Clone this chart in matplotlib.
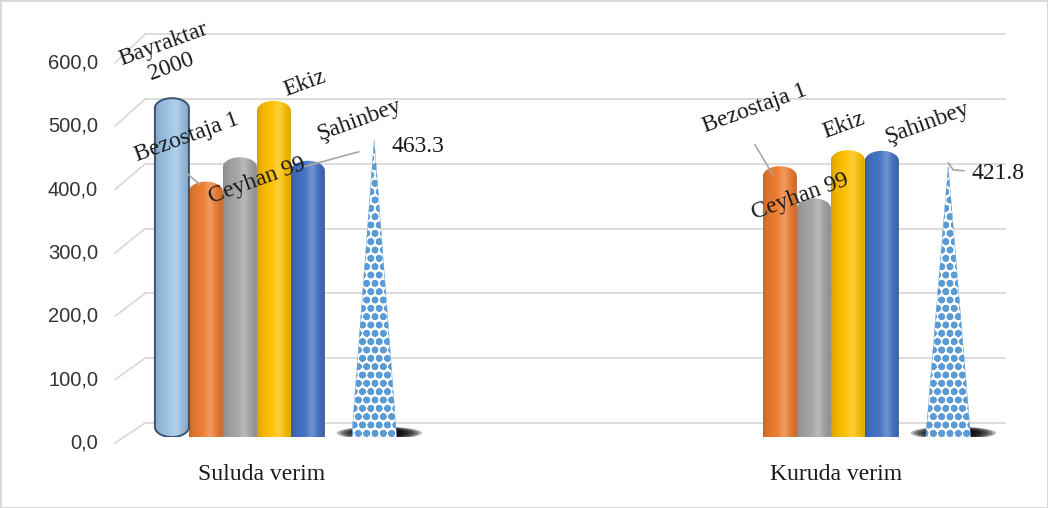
import numpy as np
import matplotlib.pyplot as plt
import matplotlib.transforms as mtransforms
from matplotlib.patches import PathPatch, Ellipse, Polygon
from matplotlib.path import Path
from matplotlib.colors import to_rgb

plt.rcParams['font.family'] = 'Liberation Serif'
plt.rcParams['hatch.linewidth'] = 2.4

# data
categories = ['Suluda verim', 'Kuruda verim']
varieties = ['Bayraktar\n2000', 'Bezostaja 1', 'Ceyhan 99', 'Ekiz', 'Şahinbey']
suluda = [528, 398, 436, 524, 430.5]
kuruda = [None, 422, 372, 447, 446]
averages = [463.3, 421.8]
yticks = [0, 100, 200, 300, 400, 500, 600]

colors = ['#9DC3E6', '#ED7D31', '#A5A5A5', '#FFC000', '#4472C4']
pyr_color = '#5B9BD5'
txt = '#1a1a1a'

W, H = 1048, 508
fig = plt.figure(figsize=(W / 100, H / 100), dpi=100)
fig.patch.set_edgecolor('#d9d9d9')
fig.patch.set_linewidth(2)
ax = fig.add_axes([115 / W, (H - 437) / H, 890 / W, 385 / H])
ax.set_xlim((115 - 262) / 574, (1005 - 262) / 574)
ax.set_ylim(0, 600)
ax.axis('off')

px_per_unit = 385 / 600
w = 34 / 574                     # bar width in data units
bar_off = (np.arange(5) - 2.65) * w
pyr_off = 3.3 * w


def off(dx, dy):
    return mtransforms.offset_copy(ax.transData, fig=fig, x=dx, y=dy, units='dots')


# gridlines (back wall) with the 3D diagonal stubs, and tick labels (front)
blend = mtransforms.blended_transform_factory(ax.transAxes, ax.transData)
for v in yticks:
    front = -6 - v * 0.008
    back = 14 + v * 0.006
    tb = blend + mtransforms.ScaledTranslation(0, back / 100, fig.dpi_scale_trans)
    tf = blend + mtransforms.ScaledTranslation(0, front / 100, fig.dpi_scale_trans)
    ax.plot([30 / 890, 1], [v, v], color='#d9d9d9', lw=1.3, transform=tb,
            clip_on=False, zorder=0)
    ax.annotate('', xy=(0, v), xycoords=tf, xytext=(30 / 890, v), textcoords=tb,
                arrowprops=dict(arrowstyle='-', color='#d9d9d9', lw=1.3,
                                shrinkA=0, shrinkB=0), zorder=0)
    ax.text(-17 / 890, v, f'{v:.1f}'.replace('.', ','), transform=tf,
            ha='right', va='center', fontsize=14.5, color='#333333',
            family='Liberation Sans')


def capsule(xc, top, round_bottom=False):
    cap = 10 / px_per_unit
    hw = w / 2
    t = np.linspace(0, np.pi, 40)
    top_x = xc + hw * np.cos(t)
    top_y = top - cap + cap * np.sin(t)
    if round_bottom:
        bx = xc - hw * np.cos(t)
        by = cap - cap * np.sin(t)
    else:
        bx = np.array([xc - hw, xc + hw])
        by = np.array([0, 0])
    xs = np.concatenate([bx, top_x])
    ys = np.concatenate([by, top_y])
    verts = np.column_stack([np.append(xs, xs[0]), np.append(ys, ys[0])])
    codes = [Path.MOVETO] + [Path.LINETO] * (len(verts) - 2) + [Path.CLOSEPOLY]
    return Path(verts, codes)


tg = np.linspace(0, 1, 80)
shade = 0.8 + 0.2 * np.sin(np.pi * tg) ** 0.5
hl = 0.22 * np.exp(-((tg - 0.62) / 0.14) ** 2)


def draw_bar(xc, val, color, round_bottom=False, edge=None):
    path = capsule(xc, val, round_bottom)
    patch = PathPatch(path, facecolor='none',
                      edgecolor=edge if edge else 'none', lw=1.4, zorder=3)
    ax.add_patch(patch)
    base = np.array(to_rgb(color))
    rgb = base[None, :] * shade[:, None]
    rgb = rgb * (1 - hl[:, None]) + hl[:, None]
    img = ax.imshow(np.clip(rgb, 0, 1)[None, :, :],
                    extent=[xc - w / 2, xc + w / 2, -5, val + 5],
                    aspect='auto', zorder=2, interpolation='bilinear')
    img.set_clip_path(patch)


def draw_pyramid(xc, val):
    # soft shadow under the base
    for s in np.linspace(1.0, 0.45, 8):
        ax.add_patch(Ellipse((xc + 0.15 * w, 4 / px_per_unit), 2.5 * w * s,
                             13 / px_per_unit * (0.4 + 0.6 * s),
                             facecolor='black', alpha=0.3, lw=0, zorder=1))
    bw = 0.66 * w
    ax.add_patch(Polygon([(xc - bw, 0), (xc + bw, 0), (xc, val)], closed=True,
                         facecolor='white', edgecolor=pyr_color, hatch='oo',
                         lw=0.3, zorder=2))


for gi, series in enumerate([suluda, kuruda]):
    for i, val in enumerate(series):
        if val is None:
            continue
        draw_bar(gi + bar_off[i], val, colors[i], round_bottom=(i == 0),
                 edge='#3A5470' if i == 0 else None)
    draw_pyramid(gi + pyr_off, averages[gi])
    ax.annotate(categories[gi], xy=(gi, 0), xycoords='data', xytext=(0, -37),
                textcoords='offset pixels', ha='center', va='center', fontsize=17,
                color=txt)

# series name labels (offsets in pixels from bar top)
name_off = [
    [(-4.5, 42.5), (-19.5, 44.5), (17, -24), (30.5, 17.5), (51, 41)],
    [None, (-25, 57.5), (-14, 1.5), (-4.5, 25), (45.5, 27.5)],
]
for gi, series in enumerate([suluda, kuruda]):
    for i, val in enumerate(series):
        if val is None:
            continue
        dx, dy = name_off[gi][i]
        ax.text(gi + bar_off[i], val, varieties[i], transform=off(dx, dy),
                ha='center', va='center', rotation=20, fontsize=17,
                color=txt, linespacing=1.15, zorder=5, rotation_mode='anchor')

avg_off = [(17, -7), (23, -7)]
for gi, val in enumerate(averages):
    dx, dy = avg_off[gi]
    ax.text(gi + pyr_off, val, f'{val:.1f}', transform=off(dx, dy),
            ha='left', va='center', fontsize=17, color=txt, zorder=5)


def leader(x, v, pts):
    for (ax1, ay1), (bx1, by1) in zip(pts[:-1], pts[1:]):
        ax.annotate('', xy=(x, v), xycoords=off(ax1, ay1), xytext=(x, v),
                    textcoords=off(bx1, by1),
                    arrowprops=dict(arrowstyle='-', color='#a6a6a6', lw=1.2,
                                    shrinkA=0, shrinkB=0), zorder=4)


leader(0 + bar_off[1], suluda[1], [(-21, 10), (-6, -3)])
leader(0 + bar_off[2], suluda[2], [(64, -9.5), (119, 5.5)])
leader(1 + bar_off[1], kuruda[1], [(-25, 21.5), (-7, -8.5)])
leader(1 + pyr_off, averages[1], [(0, 3.5), (5, -3.5), (16, -4.5)])

fig.savefig('out.png', dpi=100)
